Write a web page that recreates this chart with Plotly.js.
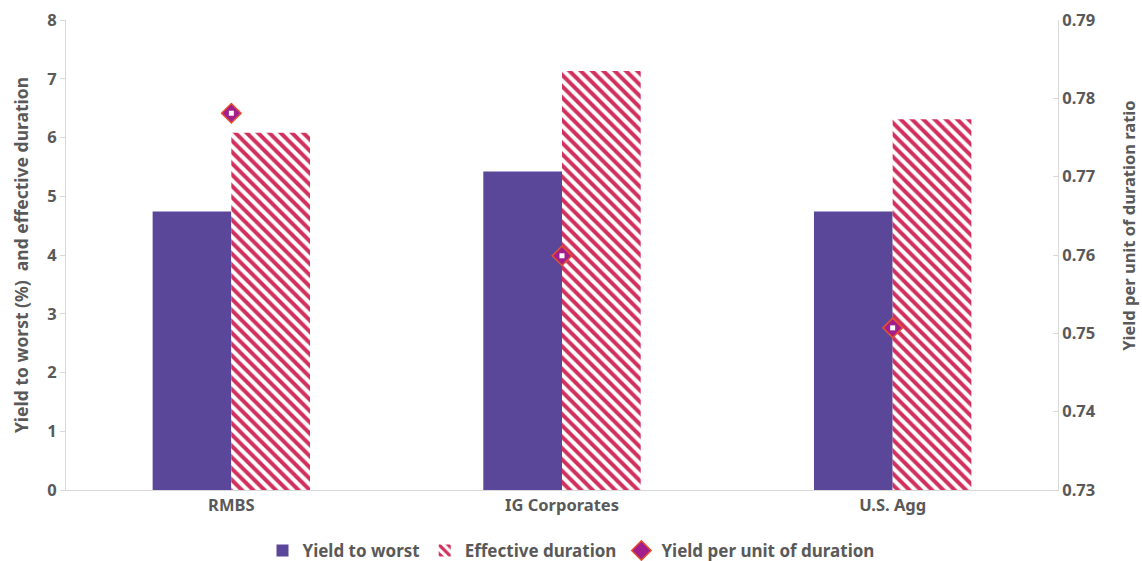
<!DOCTYPE html>
<html>
<head>
<meta charset="utf-8">
<script src="https://cdn.plot.ly/plotly-3.0.1.min.js"></script>
<style>html,body{margin:0;padding:0;background:#fff;}#chart{width:1142px;height:561px;}</style>
</head>
<body>
<div id="chart"></div>
<script>
const categories = ["RMBS", "IG Corporates", "U.S. Agg"];
const yieldToWorst = [4.74, 5.42, 4.74];
const effectiveDuration = [6.08, 7.13, 6.31];
const yieldPerDuration = [0.7781, 0.7599, 0.7507];
const leftTicks = [0, 1, 2, 3, 4, 5, 6, 7, 8];
const rightTicks = [0.73, 0.74, 0.75, 0.76, 0.77, 0.78, 0.79];
const leftTitle = "Yield to worst (%)  and effective duration";
const rightTitle = "Yield per unit of duration ratio";

const FONT = "Noto Sans, Open Sans, sans-serif";
const GREY = "#595959";

const traces = [
  {
    type: "bar", name: "Yield to worst", x: categories, y: yieldToWorst,
    marker: {color: "#5A4799"}, offsetgroup: "a"
  },
  {
    type: "bar", name: "Effective duration", x: categories, y: effectiveDuration,
    marker: {color: "#FFFFFF", pattern: {shape: "\\", fgcolor: "#D12F5C", bgcolor: "#FFFFFF", size: 8, solidity: 0.5}},
    offsetgroup: "b"
  },
  {
    type: "scatter", mode: "markers", name: "Yield per unit of duration", x: categories, y: yieldPerDuration,
    yaxis: "y2",
    marker: {symbol: "diamond", size: 15, color: "#A11E8C", line: {color: "#E8502C", width: 1.5}}
  },
  {
    type: "scatter", mode: "markers", showlegend: false, hoverinfo: "skip", x: categories, y: yieldPerDuration,
    yaxis: "y2",
    marker: {symbol: "square", size: 5, color: "#FFFFFF"}
  }
];

const layout = {
  width: 1142, height: 561,
  margin: {l: 66, r: 84, t: 20, b: 71, autoexpand: false},
  paper_bgcolor: "#FFFFFF", plot_bgcolor: "#FFFFFF",
  font: {family: FONT, color: GREY, size: 16, weight: 700},
  barmode: "group", bargap: 0.524, bargroupgap: 0,
  showlegend: true,
  legend: {orientation: "h", x: 0.5, xanchor: "center", xref: "container",
           y: 0.018, yanchor: "middle", yref: "container",
           font: {family: FONT, size: 17, color: GREY, weight: 700}, traceorder: "normal",
           itemwidth: 30, tracegroupgap: 0},
  xaxis: {
    type: "category", showgrid: false, zeroline: false,
    showline: true, linecolor: "#D9D9D9", linewidth: 1,
    ticks: "", tickfont: {family: FONT, size: 16.5, color: GREY, weight: 700}
  },
  yaxis: {
    range: [0, 8], tickvals: leftTicks, showgrid: false, zeroline: false,
    showline: true, linecolor: "#D9D9D9", linewidth: 1,
    ticks: "outside", ticklen: 5, tickcolor: "#D9D9D9",
    tickfont: {family: FONT, size: 16.5, color: GREY, weight: 700},
    title: {text: leftTitle, standoff: 14,
            font: {family: FONT, size: 17.5, color: GREY, weight: 700}}
  },
  yaxis2: {
    overlaying: "y", side: "right", range: [0.73, 0.79], tickvals: rightTicks,
    tickformat: ".2f", showgrid: false, zeroline: false,
    showline: true, linecolor: "#D9D9D9", linewidth: 1,
    ticks: "inside", ticklen: 5, tickcolor: "#D9D9D9",
    tickfont: {family: FONT, size: 16.5, color: GREY, weight: 700}
  },
  annotations: [
    {text: rightTitle, textangle: -90, xref: "paper", yref: "paper",
     x: 1.0715, xanchor: "center", y: 0.562, yanchor: "middle", showarrow: false,
     font: {family: FONT, size: 16.5, color: GREY, weight: 700}}
  ]
};

Plotly.newPlot("chart", traces, layout, {displayModeBar: false, staticPlot: true});
</script>
</body>
</html>
